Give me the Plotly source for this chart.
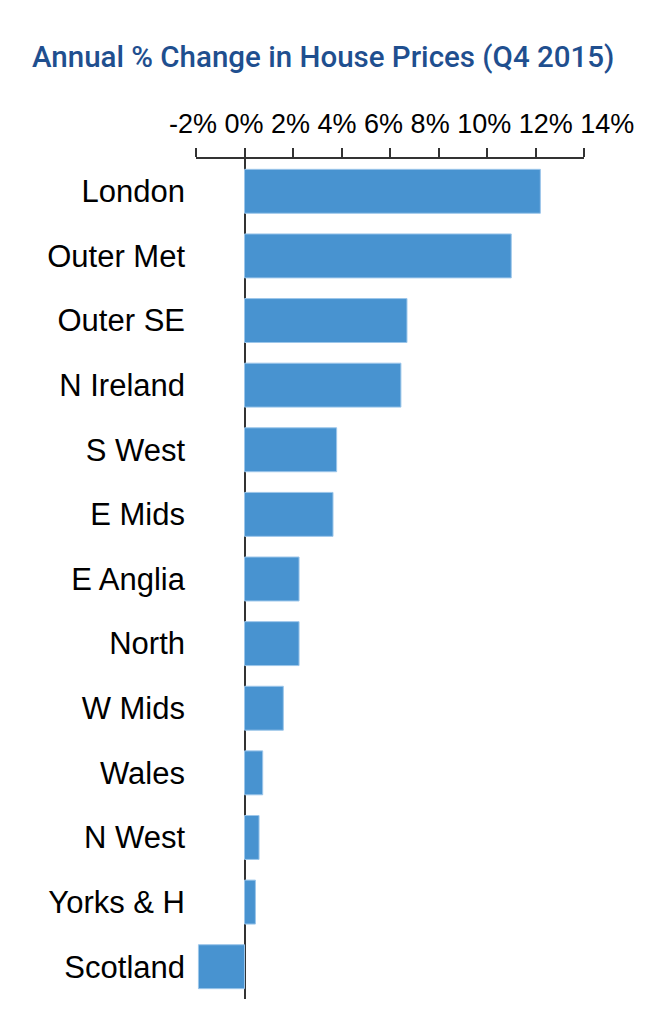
import plotly.graph_objects as go

regions = ["London", "Outer Met", "Outer SE", "N Ireland", "S West", "E Mids",
           "E Anglia", "North", "W Mids", "Wales", "N West", "Yorks & H", "Scotland"]
annual_change = [12.2, 11.0, 6.7, 6.45, 3.8, 3.65, 2.25, 2.25, 1.6, 0.75, 0.6, 0.45, -1.9]

tick_values = [-2, 0, 2, 4, 6, 8, 10, 12, 14]
tick_labels = ["-2%", "0%", "2%", "4%", "6%", "8%", "10%", "12%", "14%"]

title_text = "Annual % Change in House Prices (Q4 2015)"

# The page body has an 8px default margin; figure size/margins compensate for it.
W, H = 646, 1010
ML, MR, MT, MB = 188, 70, 151, 19
plot_w = W - ML - MR
plot_h = H - MT - MB

fig = go.Figure(
    go.Bar(
        x=annual_change,
        y=regions,
        orientation="h",
        width=0.68,
        marker=dict(color="#4893d0", line=dict(color="#9cc6ea", width=1)),
        hoverinfo="x+y",
    )
)

fig.update_layout(
    width=W,
    height=H,
    margin=dict(l=ML, r=MR, t=MT, b=MB),
    paper_bgcolor="white",
    plot_bgcolor="white",
    showlegend=False,
    title=dict(
        text=title_text,
        xref="container", yref="container",
        x=24 / W, xanchor="left",
        y=1 - 49 / H, yanchor="middle",
        font=dict(family="Roboto, Liberation Sans, Arial, sans-serif", size=29.5,
                  color="#1f4f8f", weight=500),
    ),
    font=dict(family="Liberation Sans, Arial, sans-serif", color="black"),
    annotations=[
        dict(
            text=" ".join(tick_labels),
            xref="paper", yref="paper",
            x=(159 - ML) / plot_w, xanchor="left",
            y=1 + (MT - 116) / plot_h, yanchor="middle",
            showarrow=False,
            font=dict(family="Liberation Sans, Arial, sans-serif", size=27, color="black"),
        )
    ],
)

fig.update_xaxes(
    side="top",
    range=[-2, 14],
    tickmode="array",
    tickvals=tick_values,
    ticktext=tick_labels,
    showticklabels=False,
    ticks="outside",
    ticklen=9,
    tickwidth=2,
    tickcolor="#333333",
    showline=True,
    linecolor="#333333",
    linewidth=2,
    showgrid=False,
    zeroline=True,
    zerolinecolor="#333333",
    zerolinewidth=2,
    layer="above traces",
    fixedrange=True,
)

fig.update_yaxes(
    type="category",
    range=[12.5, -0.5],
    showgrid=False,
    showline=False,
    ticks="",
    tickfont=dict(size=31, color="black"),
    ticklabelstandoff=10,
    fixedrange=True,
)

fig.write_html("out.html")
